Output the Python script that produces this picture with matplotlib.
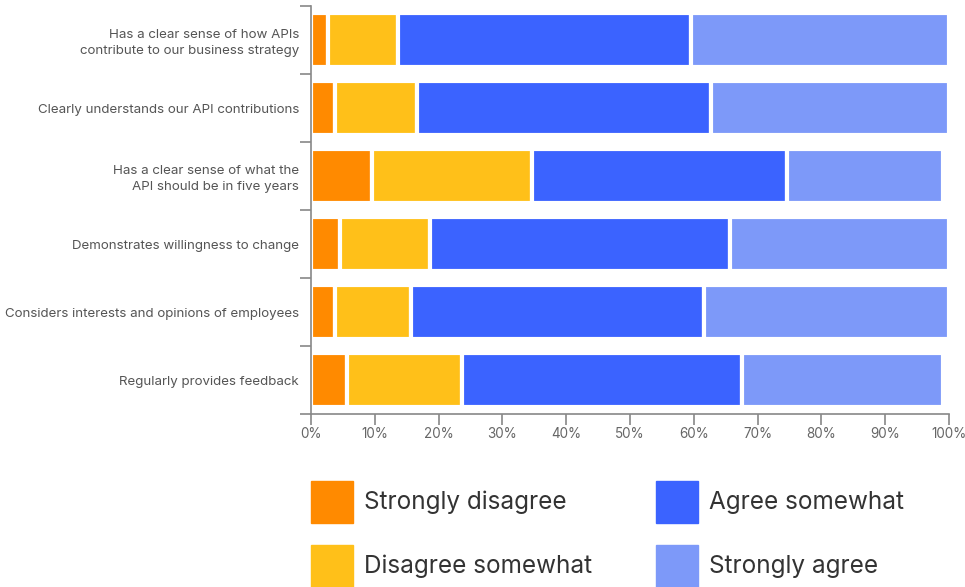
import numpy as np
import matplotlib
matplotlib.use("Agg")
import matplotlib.pyplot as plt
from matplotlib.patches import Rectangle

plt.rcParams['font.family'] = ['Inter', 'DejaVu Sans']

# Dữ liệu
statements = [
    "Has a clear sense of how APIs\ncontribute to our business strategy",
    "Clearly understands our API contributions",
    "Has a clear sense of what the\nAPI should be in five years",
    "Demonstrates willingness to change",
    "Considers interests and opinions of employees",
    "Regularly provides feedback",
]
strongly_disagree = [2.7, 3.7, 9.6, 4.6, 3.7, 5.6]
disagree_somewhat = [11.0, 12.9, 25.0, 14.1, 11.9, 18.1]
agree_somewhat = [45.9, 46.1, 40.0, 46.9, 46.0, 43.9]
strongly_agree = [40.4, 37.3, 24.4, 34.4, 38.4, 31.4]

series_names = ["Strongly disagree", "Disagree somewhat", "Agree somewhat", "Strongly agree"]
series_values = [strongly_disagree, disagree_somewhat, agree_somewhat, strongly_agree]
colors = ["#FF8A00", "#FFC019", "#3B63FF", "#7D99F9"]

fig = plt.figure(figsize=(9.65, 5.87), dpi=100)
ax = fig.add_axes([311 / 965, 1 - 414 / 587, 638 / 965, 408 / 587])

y = np.arange(len(statements))
left = np.zeros(len(statements))
for name, vals, c in zip(series_names, series_values, colors):
    vals = np.array(vals)
    ax.barh(y, vals, left=left, height=0.78, color=c, edgecolor="white",
            linewidth=3.0, label=name, zorder=2)
    left += vals

ax.set_xlim(0, 100)
ax.set_ylim(len(statements) - 0.5, -0.5)

# Trục x
ax.set_xticks(np.arange(0, 101, 10))
ax.set_xticklabels([f"{v}%" for v in range(0, 101, 10)])
ax.tick_params(axis="x", length=8, width=1.2, color="#888888", pad=1.5,
               labelsize=9.7, labelcolor="#666666")

# Trục y: vạch ở ranh giới, nhãn ở giữa
ax.set_yticks(np.arange(-0.5, len(statements), 1.0))
ax.set_yticklabels([])
ax.tick_params(axis="y", which="major", length=8, width=1.2, color="#888888")
ax.set_yticks(y, minor=True)
ax.set_yticklabels(statements, minor=True, linespacing=1.4)
ax.tick_params(axis="y", which="minor", length=0, pad=8.6, labelsize=9.6,
               labelcolor="#555555")

for s in ["top", "right"]:
    ax.spines[s].set_visible(False)
for s in ["left", "bottom"]:
    ax.spines[s].set_color("#888888")
    ax.spines[s].set_linewidth(1.2)
    ax.spines[s].set_zorder(3)

# Chú thích (legend) tự vẽ
W, H = 965, 587
sq = 42
pos = [(311, 481), (311, 545), (656, 481), (656, 545)]
for (px, py), name, c in zip(pos, series_names, colors):
    fig.add_artist(Rectangle((px / W, 1 - (py + sq) / H), sq / W, sq / H,
                             transform=fig.transFigure, color=c))
    fig.text((px + sq + 11) / W, 1 - (py + sq / 2) / H, name, fontsize=17.5,
             color="#333333", va="center", ha="left")

fig.savefig("out.png", dpi=100)
